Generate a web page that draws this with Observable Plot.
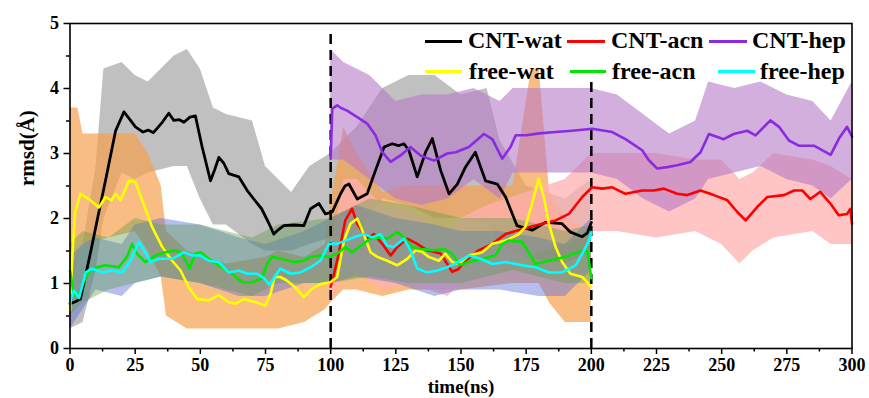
<!DOCTYPE html>
<html><head><meta charset="utf-8">
<script src="https://cdn.jsdelivr.net/npm/d3@7"></script>
<script src="https://cdn.jsdelivr.net/npm/@observablehq/plot@0.6"></script>
<style>
body{margin:0;background:#fff;}
#wrap{position:relative;width:869px;height:398px;}
.leg{position:absolute;font-family:"Liberation Serif","Times New Roman",serif;font-weight:bold;font-size:24px;line-height:24px;white-space:nowrap;color:#000}
.sw{position:absolute;height:3px}
</style></head><body><div id="wrap"></div><script>
// smoothed series [time ns, rmsd Å]
const cntWat = [[0,0.69],[2,0.72],[4,0.76],[5.3,1.0],[8,1.5],[10.4,1.97],[13.6,2.58],[17.5,3.35],[20.7,3.64],[23,3.52],[25.1,3.41],[28,3.33],[30,3.36],[32,3.32],[35.4,3.48],[37.9,3.62],[39.8,3.51],[42,3.52],[43.7,3.48],[46,3.56],[48.1,3.58],[50.7,3.10],[53.9,2.58],[55.5,2.75],[57.1,2.94],[59,2.85],[60.9,2.69],[64.8,2.64],[68,2.43],[70.5,2.30],[73.5,2.15],[76,1.95],[78.2,1.76],[80,1.83],[82,1.89],[86,1.90],[89.7,1.89],[92.3,2.15],[95.5,2.23],[98,2.07],[100.6,2.10],[103.8,2.38],[105.5,2.50],[107,2.53],[110.2,2.30],[114,2.38],[117.2,2.74],[120.5,3.10],[123.6,3.15],[126,3.12],[128.1,3.15],[130,3.05],[133.2,2.64],[136.4,3.02],[139,3.23],[142.2,2.74],[145.4,2.38],[148.6,2.53],[151.7,2.79],[155.5,3.02],[157,2.85],[159.4,2.58],[163.9,2.53],[167.1,2.33],[171.5,1.89],[177.3,1.82],[182.4,1.94],[188.8,1.92],[192,1.79],[196.5,1.72],[198.5,1.78],[200,1.94]];
const cntAcn = [[100,0.95],[101,1.10],[103.1,1.46],[105.6,1.97],[108.2,2.15],[110.2,1.92],[114,1.69],[116.6,1.76],[119.8,1.61],[123,1.43],[125.5,1.56],[129.4,1.69],[133.2,1.61],[137,1.51],[142.2,1.46],[146.6,1.18],[149,1.22],[151.7,1.35],[156.8,1.51],[162,1.61],[167.1,1.76],[173.5,1.84],[181.2,1.92],[186.3,1.97],[191.4,2.07],[196.5,2.33],[200.3,2.48],[204.2,2.46],[208,2.48],[213.1,2.38],[219.5,2.43],[224,2.43],[227.8,2.46],[232.9,2.38],[236.8,2.36],[241.9,2.43],[247,2.36],[252.2,2.28],[256,2.10],[259.2,1.97],[263.7,2.18],[267.5,2.33],[273.9,2.36],[277.8,2.43],[281,2.43],[284,2.30],[287.8,2.41],[291.7,2.23],[294.9,2.05],[298.1,2.07],[299.4,2.15],[300,1.92]];
const cntHep = [[100,2.92],[100.6,3.69],[102.5,3.74],[104,3.70],[106.3,3.66],[110.2,3.56],[114,3.46],[117.2,3.28],[119.8,3.02],[123,2.87],[126.8,2.97],[130.6,3.10],[134.5,2.97],[139.6,2.89],[144.7,3.00],[148,3.02],[153,3.10],[158.8,3.30],[162,3.22],[165.8,2.92],[169,3.10],[171,3.28],[175,3.28],[180,3.31],[186.2,3.33],[192.6,3.35],[200.3,3.38],[208,3.33],[213.1,3.22],[219.5,3.05],[222,2.90],[225.2,2.77],[229.1,2.79],[232.9,2.82],[238,2.87],[241.9,3.02],[245.1,3.30],[250.8,3.22],[254.6,3.30],[259.8,3.35],[263,3.28],[268.7,3.51],[272,3.41],[275.8,3.20],[279.6,3.12],[285.4,3.12],[291.8,2.98],[295,3.23],[298.1,3.41],[300,3.26]];
const freeWat = [[0,0.58],[1,1.5],[2,2.1],[4,2.38],[7.2,2.30],[11.1,2.17],[13.6,2.33],[16,2.28],[17.5,2.38],[19.4,2.28],[22.6,2.58],[25.1,2.56],[27.7,2.28],[31.5,1.87],[35.4,1.56],[39.2,1.35],[42.4,1.20],[45.6,0.94],[48.8,0.76],[53.3,0.74],[57.1,0.82],[61,0.71],[63.5,0.69],[66.7,0.76],[71.2,0.71],[75,0.66],[77,0.85],[78.5,1.10],[80.7,1.10],[83,1.05],[86.5,0.94],[89.7,0.79],[92.9,0.92],[96.1,0.99],[99.9,1.02],[102.5,1.10],[105.1,1.66],[107.6,1.92],[110.2,2.00],[112.7,1.76],[115.3,1.48],[117.9,1.41],[121.7,1.35],[125.5,1.28],[129.4,1.38],[132.6,1.51],[135,1.49],[137.6,1.41],[141.5,1.35],[144,1.46],[146.6,1.33],[149.2,1.30],[153,1.43],[158.1,1.48],[162,1.61],[167.1,1.66],[172.2,1.76],[174.7,1.87],[177.3,2.23],[179.8,2.61],[181.8,2.33],[183.7,1.92],[186.3,1.56],[188.8,1.33],[192,1.15],[196.5,1.10],[198.4,1.02],[200,0.94]];
const freeAcn = [[0,1.20],[1.5,0.82],[3.5,0.84],[6,1.10],[8.5,1.23],[13.6,1.28],[18.7,1.25],[21.9,1.41],[23.8,1.61],[25.7,1.46],[28.9,1.33],[32.8,1.43],[36.6,1.48],[40.5,1.51],[43,1.46],[45.9,1.23],[48.1,1.46],[50.1,1.48],[53.3,1.38],[57.1,1.28],[62.2,1.15],[66.1,1.02],[69.9,1.02],[73.7,1.08],[75.6,1.30],[77.5,1.41],[82,1.37],[85.8,1.33],[89.7,1.35],[92.3,1.41],[96.1,1.43],[99.3,1.41],[102.5,1.46],[105.6,1.56],[108.2,1.48],[111.4,1.58],[115.3,1.69],[118.5,1.71],[121.7,1.69],[125.5,1.79],[128.1,1.71],[131.3,1.56],[134.5,1.53],[139.6,1.51],[143.5,1.53],[146.6,1.46],[149.5,1.28],[153,1.33],[158.1,1.38],[163.2,1.43],[165.8,1.61],[168.3,1.66],[173.5,1.64],[178.6,1.30],[183.7,1.35],[190.1,1.41],[196.5,1.51],[198.5,1.50],[200,1.08]];
const freeHep = [[0,0.74],[1.5,0.89],[3.5,0.78],[6,1.17],[8.5,1.23],[12.3,1.17],[16.2,1.20],[20,1.17],[23.2,1.35],[26.4,1.64],[28.9,1.48],[30.9,1.33],[34.1,1.38],[39.2,1.38],[43.7,1.48],[46.9,1.43],[50,1.43],[53.3,1.35],[57.1,1.33],[60.9,1.17],[64.8,1.20],[68,1.15],[71.8,1.15],[74.5,1.08],[76.5,0.98],[80.7,1.23],[84.6,1.15],[88.4,1.17],[92.3,1.25],[96.1,1.35],[99.3,1.61],[102.5,1.61],[105.6,1.66],[108.9,1.71],[112.7,1.76],[116,1.71],[119.1,1.76],[121.7,1.58],[124.2,1.56],[128.1,1.69],[130.6,1.51],[133.2,1.23],[137,1.17],[140.9,1.20],[144.7,1.25],[147.9,1.31],[153,1.43],[157.5,1.38],[162,1.30],[167.1,1.33],[173.5,1.28],[178.6,1.25],[183.7,1.17],[188.8,1.17],[194,1.28],[197.2,1.51],[199.1,1.66],[200,1.79]];

// raw-data envelopes [time ns, low, high]
const rawCntWat = [[0,0.3,1.2],[5,0.4,1.6],[10,1.2,2.8],[13,2.0,4.3],[20,2.7,4.4],[25,2.6,4.2],[30,2.7,4.1],[40,2.8,4.5],[45,2.8,4.6],[50,2.3,4.3],[55,1.9,3.7],[60,1.9,3.6],[70,1.6,3.5],[75,1.5,2.8],[85,1.5,2.4],[92,1.6,2.8],[100,1.7,3.0],[110,1.8,3.4],[120,2.3,4.0],[130,2.2,4.2],[140,2.0,4.2],[150,2.0,3.9],[160,1.9,4.0],[165,1.6,3.2],[175,1.4,2.5],[190,1.3,2.3],[200,1.5,2.6]];
const rawFreeWat = [[0,0.6,3.7],[3,1.4,3.7],[5,1.6,3.3],[15,1.7,3.3],[25,1.8,3.3],[30,1.5,3.0],[35,1.1,2.5],[37,0.5,1.8],[45,0.3,1.5],[60,0.3,1.3],[75,0.3,1.4],[80,0.3,1.5],[90,0.4,1.4],[98,0.6,1.6],[100,0.7,2.2],[105,0.9,3.4],[110,0.9,3.0],[120,0.8,2.4],[130,0.9,2.5],[150,0.9,2.5],[170,1.0,2.5],[177,1.0,4.3],[180,1.0,4.3],[184,0.7,2.4],[190,0.4,2.0],[200,0.4,1.8]];
const rawCntHep = [[100,2.9,4.6],[105,2.9,4.4],[115,2.6,4.2],[125,2.3,3.8],[135,2.2,3.9],[145,2.3,3.9],[155,2.6,4.0],[165,2.3,3.8],[170,2.7,4.0],[185,2.7,4.0],[200,2.7,4.0],[210,2.6,3.9],[220,2.3,3.6],[230,2.1,3.3],[240,2.3,3.5],[245,2.6,4.1],[255,2.7,4.0],[265,2.8,4.1],[275,2.6,3.9],[285,2.5,3.8],[292,2.3,3.5],[300,2.6,4.1]];
const rawCntAcn = [[100,0.7,1.5],[105,1.1,2.6],[110,1.2,2.6],[120,0.9,2.2],[130,1.0,2.1],[145,0.8,1.8],[150,1.0,2.0],[160,1.1,2.2],[175,1.4,2.4],[190,1.6,2.6],[200,1.8,3.0],[210,1.8,3.0],[225,1.7,3.0],[240,1.8,2.9],[250,1.6,2.9],[257,1.3,2.6],[262,1.5,2.7],[270,1.7,3.0],[285,1.8,2.9],[292,1.6,2.8],[300,1.6,2.6]];
const rawFreeHep = [[0,0.3,1.4],[5,0.6,1.6],[10,0.9,1.7],[20,0.8,1.6],[25,1.0,1.9],[35,1.1,2.0],[50,1.0,1.9],[65,0.8,1.7],[75,0.8,1.6],[90,1.0,1.8],[100,1.0,2.0],[110,1.1,2.2],[125,1.0,2.0],[140,0.8,1.9],[150,0.9,1.8],[165,0.9,1.8],[180,0.8,1.7],[190,0.8,1.6],[200,1.2,2.0]];
const rawFreeAcn = [[0,0.5,1.6],[5,0.7,1.8],[15,0.9,1.7],[25,1.0,2.0],[35,1.1,1.9],[50,1.0,1.9],[70,0.8,1.7],[80,1.0,1.9],[100,1.0,2.0],[115,1.1,2.3],[130,1.0,2.2],[150,1.0,2.0],[170,1.2,2.0],[190,1.0,1.8],[200,1.0,1.9]];

// separators [time, top]
const dividers = [[100,4.92],[200,4.17]];
const xMajor = [0,25,50,75,100,125,150,175,200,225,250,275,300];
const xMinor = [12.5,37.5,62.5,87.5,112.5,137.5,162.5,187.5,212.5,237.5,262.5,287.5];
const yMajor = [0,1,2,3,4,5];
const yMinor = [0.5,1.5,2.5,3.5,4.5];
const xTitle = "time(ns)";
const yTitle = "rmsd(Å)";

const legendNames = ["CNT-wat","CNT-acn","CNT-hep","free-wat","free-acn","free-hep"];
const legendColors = ["#000000","#ff0000","#8a2be2","#ffff00","#00e600","#00ffff"];
// legend layout: [lineLeft, lineRight, textLeft, centerY]
const legendPos = [[425,462,468,41],[567,605,611,41],[709,747,752,41],[425,462,469,71.5],[570,606,612,71.5],[718,755,760,71.5]];

const band = (data, color, op) => Plot.areaY(data, {x: d => d[0], y1: d => d[1], y2: d => d[2], fill: color, fillOpacity: op});
const line = (data, color, w=2.6) => Plot.line(data, {x: d => d[0], y: d => d[1], stroke: color, strokeWidth: w});
const serif = '"Liberation Serif","Times New Roman",serif';

const chart = Plot.plot({
  width: 869, height: 398,
  marginLeft: 69.5, marginRight: 17.5, marginTop: 23, marginBottom: 50,
  style: {fontFamily: serif, fontSize: "18px", fontWeight: "bold", background: "#fff", color: "#000"},
  x: {domain: [0, 300]},
  y: {domain: [0, 5]},
  marks: [
    band(rawCntWat, "#9e9e9e", 0.65),
    band(rawFreeWat, "#f7a04f", 0.7),
    band(rawCntAcn, "#ffb0b0", 0.75),
    band(rawCntHep, "#b57ac6", 0.6),
    band(rawFreeHep, "#5d6fdb", 0.45),
    band(rawFreeAcn, "#5f9a4c", 0.4),
    Plot.ruleX(dividers, {x: d => d[0], y1: 0, y2: d => d[1], stroke: "#000", strokeWidth: 2.5, strokeDasharray: "10,6"}),
    line(cntWat, "#000000", 2.8),
    line(cntHep, "#8a2be2"),
    line(cntAcn, "#ff0000"),
    line(freeWat, "#ffff00"),
    line(freeAcn, "#00e600"),
    line(freeHep, "#00ffff"),
    Plot.axisX({ticks: xMajor, tickFormat: d => String(d), tickSize: 6, tickPadding: 4, strokeWidth: 1.5, label: null, fontSize: 18}),
    Plot.axisX({ticks: xMinor, tickSize: 3.5, strokeWidth: 1.5, tickFormat: () => "", label: null}),
    Plot.axisY({ticks: yMajor, tickFormat: d => String(d), tickSize: 6, tickPadding: 5, strokeWidth: 1.5, label: null, fontSize: 18}),
    Plot.axisY({ticks: yMinor, tickSize: 3.5, strokeWidth: 1.5, tickFormat: () => "", label: null}),
    Plot.text([xTitle], {text: d => d, frameAnchor: "bottom", dy: 38.5, lineAnchor: "middle", fontSize: 19, fontWeight: "bold", fontFamily: serif}),
    Plot.text([yTitle], {text: d => d, frameAnchor: "left", dx: -43, rotate: -90, lineAnchor: "middle", fontSize: 21, fontWeight: "bold", fontFamily: serif}),
    Plot.frame({stroke: "#000", strokeWidth: 1.6})
  ]
});
const wrap = document.getElementById("wrap");
wrap.appendChild(chart);
legendNames.forEach((n, i) => {
  const [l, r, tx, cy] = legendPos[i];
  const sw = document.createElement("div");
  sw.className = "sw";
  sw.style.left = l + "px"; sw.style.width = (r - l) + "px"; sw.style.top = (cy - 1.5) + "px";
  sw.style.background = legendColors[i];
  wrap.appendChild(sw);
  const t = document.createElement("div");
  t.className = "leg";
  t.style.left = tx + "px"; t.style.top = (cy - 13) + "px";
  t.textContent = n;
  wrap.appendChild(t);
});
</script></body></html>
